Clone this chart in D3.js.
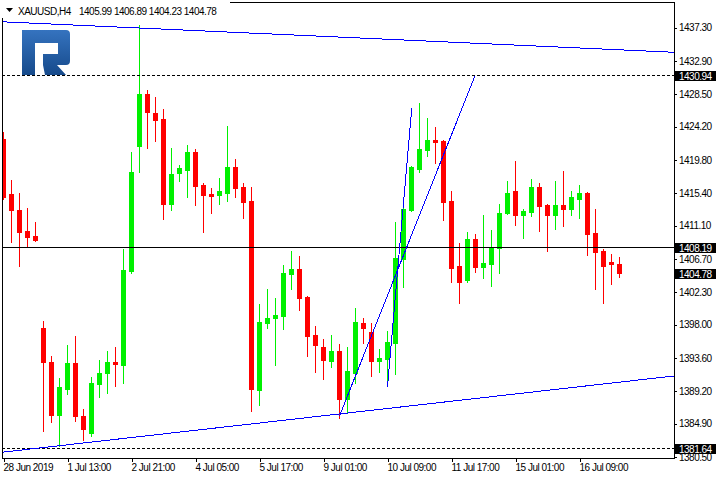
<!DOCTYPE html>
<html><head><meta charset="utf-8">
<script src="https://cdn.jsdelivr.net/npm/d3@7"></script>
<style>
html,body{margin:0;padding:0;background:#fff;}
svg{display:block;}
text{font-family:"Liberation Sans",Arial,sans-serif;font-size:10px;letter-spacing:-0.5px;}
</style>
</head><body>
<svg id="c" width="720" height="480"></svg>
<script>
// ---------- data ----------
const symbolName = "XAUUSD,H4";
const lastOHLC = [1405.99, 1406.89, 1404.23, 1404.78];

const opens = [1422.43,1415.16,1413.04,1410.26,1409.60,1397.43,1392.93,1385.95,1389.39,1392.80,
1385.91,1383.57,1390.06,1391.51,1392.93,1392.57,1404.97,1421.55,1428.39,1426.00,
1425.08,1413.87,1417.97,1418.37,1420.71,1416.35,1415.16,1415.06,1415.33,1418.73,
1416.08,1414.23,1389.26,1398.13,1398.79,1399.05,1404.61,1405.23,1401.53,1396.50,
1394.91,1393.10,1394.51,1388.07,1391.51,1398.09,1396.90,1393.10,1393.36,1395.48,
1406.59,1413.04,1418.50,1421.02,1422.30,1422.17,1414.23,1405.63,1403.78,1409.33,
1405.54,1405.93,1408.05,1412.68,1415.68,1412.42,1412.81,1416.08,1413.70,1412.42,
1413.70,1413.21,1414.53,1415.29,1410.00,1407.61,1406.20,1405.99];

const highs = [1423.36,1417.01,1415.29,1413.30,1411.45,1398.48,1393.72,1390.81,1395.18,1396.37,
1386.71,1391.07,1393.32,1394.38,1394.91,1407.88,1420.84,1437.52,1428.92,1427.99,
1426.40,1421.24,1419.12,1421.64,1421.11,1416.61,1415.95,1417.40,1424.15,1419.79,
1416.61,1416.21,1400.60,1402.59,1401.40,1405.76,1407.61,1407.08,1401.66,1397.69,
1395.97,1396.50,1395.31,1394.95,1400.07,1398.75,1398.09,1394.65,1397.07,1411.45,
1413.96,1418.86,1427.20,1425.21,1424.02,1422.30,1415.68,1408.80,1410.13,1409.86,
1412.38,1410.39,1413.83,1416.88,1419.65,1413.17,1417.14,1416.61,1413.83,1416.88,
1418.20,1415.68,1416.35,1415.42,1413.17,1407.88,1407.26,1406.89];

const lows = [1414.60,1408.84,1405.67,1408.31,1408.94,1383.84,1385.03,1381.85,1388.73,1385.16,
1382.65,1383.18,1388.34,1388.87,1389.79,1390.19,1404.74,1418.11,1421.28,1422.21,
1411.89,1413.08,1416.92,1414.80,1413.74,1410.17,1412.68,1413.87,1414.27,1414.80,
1412.02,1386.48,1387.28,1397.47,1392.57,1397.33,1402.63,1399.85,1393.76,1391.64,
1390.72,1392.31,1385.56,1386.22,1390.19,1395.48,1391.11,1391.64,1389.79,1391.38,
1402.89,1412.91,1418.11,1420.22,1419.30,1411.76,1403.55,1400.77,1403.55,1404.88,
1404.08,1403.02,1404.74,1412.55,1411.09,1409.37,1412.28,1410.30,1407.65,1410.56,
1410.96,1412.42,1412.02,1407.12,1402.63,1400.77,1403.29,1404.23];

const closes = [1414.76,1413.08,1410.17,1409.51,1409.11,1392.97,1385.95,1389.62,1392.80,1385.82,
1384.10,1390.15,1391.47,1392.93,1392.66,1405.10,1418.07,1428.39,1426.04,1424.99,
1413.87,1417.93,1418.60,1420.71,1416.25,1415.06,1414.93,1415.68,1418.73,1415.99,
1414.14,1389.39,1398.22,1398.75,1399.15,1404.70,1405.23,1401.43,1396.41,1395.22,
1393.23,1394.51,1388.07,1391.74,1398.22,1397.47,1393.10,1393.50,1395.57,1406.69,
1413.17,1418.73,1421.11,1422.30,1422.08,1414.14,1405.40,1403.55,1409.33,1405.54,
1406.07,1408.01,1412.77,1415.29,1412.42,1412.91,1416.08,1413.61,1412.42,1413.70,
1413.21,1414.76,1415.29,1409.90,1407.52,1405.67,1405.93,1404.78];

const xTickIndex  = [0, 8, 16, 24, 32, 40, 48, 56, 64, 72];
const xTickLabels = ["28 Jun 2019","1 Jul 13:00","2 Jul 21:00","4 Jul 05:00","5 Jul 17:00",
                     "9 Jul 01:00","10 Jul 09:00","11 Jul 17:00","15 Jul 01:00","16 Jul 09:00"];
const priceTicks = [1437.30,1432.90,1428.50,1424.20,1419.80,1415.40,1411.10,1406.70,
                    1402.30,1398.00,1393.60,1389.20,1384.90,1380.50];

// horizontal levels and price marks on the axis
const levelPrices = [1430.94, 1408.19, 1381.64];
const levelDashed = [true, false, true];
const markPrices  = [1430.94, 1408.19, 1404.78, 1381.64];

// trend lines: bar index / price anchors
const trendFrom   = [[0, 1438.06], [0, 1381.14], [42, 1385.92], [48, 1389.79]];
const trendTo     = [[80, 1434.22], [80, 1390.75], [58.94, 1430.94], [51.03, 1426.63]];
const trendExtend = [true, true, false, false];

// ---------- drawing ----------
const W = 720, H = 480;
const L = 2, R = 674, T = 2, B = 458;
const svg = d3.select("#c");
svg.append("rect").attr("width", W).attr("height", H).attr("fill", "#fff");

const x = d3.scaleLinear().domain([0, 84]).range([3.5, 675.5]);
const y = d3.scaleLinear().domain([1380.5, 1437.3]).range([456.9, 27.6]);

const defs = svg.append("defs");
defs.append("clipPath").attr("id", "plot")
  .append("rect").attr("x", L + 1).attr("y", T + 1).attr("width", R - L - 1).attr("height", B - T - 1);
const grad = defs.append("linearGradient").attr("id", "lg").attr("x1", 0).attr("y1", 0).attr("x2", 0).attr("y2", 1);
grad.append("stop").attr("offset", "0%").attr("stop-color", "#3573bf");
grad.append("stop").attr("offset", "100%").attr("stop-color", "#164a8b");

const plot = svg.append("g").attr("clip-path", "url(#plot)");

const candles = opens.map((o, i) => ({i, o, h: highs[i], l: lows[i], c: closes[i]}));
const UP = "#00f000", DN = "#ff0000";

const cg = plot.append("g").attr("shape-rendering", "crispEdges");
cg.selectAll("line.w").data(candles).join("line")
  .attr("x1", d => x(d.i)).attr("x2", d => x(d.i))
  .attr("y1", d => Math.floor(y(d.h)))
  .attr("y2", d => Math.floor(y(d.l)) + 1)
  .attr("stroke", d => d.c >= d.o ? UP : DN).attr("stroke-width", 1);
cg.selectAll("rect.b").data(candles).join("rect")
  .attr("x", d => x(d.i) - 2.5).attr("width", 5)
  .attr("y", d => Math.floor(y(Math.max(d.o, d.c))))
  .attr("height", d => Math.floor(y(Math.min(d.o, d.c))) - Math.floor(y(Math.max(d.o, d.c))) + 1)
  .attr("fill", d => d.c >= d.o ? UP : DN);

// horizontal levels
const lv = plot.append("g").attr("shape-rendering", "crispEdges");
levelPrices.forEach((p, k) => {
  const yy = Math.floor(y(p)) + 0.5;
  lv.append("line").attr("x1", L).attr("x2", R).attr("y1", yy).attr("y2", yy)
    .attr("stroke", "#000").attr("stroke-width", 1)
    .attr("stroke-dasharray", levelDashed[k] ? "3,2" : null);
});

// trend lines
const tl = plot.append("g").attr("shape-rendering", "crispEdges");
trendFrom.forEach((a, k) => {
  const b = trendTo[k];
  let i1 = a[0], p1 = a[1], i2 = b[0], p2 = b[1];
  if (trendExtend[k]) {
    const s = (p2 - p1) / (i2 - i1);
    const lo = -2, hi = 86;
    p1 = a[1] + s * (lo - a[0]); i1 = lo;
    p2 = a[1] + s * (hi - a[0]); i2 = hi;
  }
  tl.append("line").attr("x1", x(i1)).attr("y1", y(p1)).attr("x2", x(i2)).attr("y2", y(p2))
    .attr("stroke", "#0000ff").attr("stroke-width", 1);
});

// logo
svg.append("path")
  .attr("d", "M22,30 H66 Q70,30 70,34 V61 Q70,65 66,65 H43 V54 H58 V43 H35 V75 H22 Z M43,65 H57 L66,75 H45 Z")
  .attr("fill", "url(#lg)");

// frame
const fr = svg.append("g").attr("shape-rendering", "crispEdges").attr("stroke", "#000").attr("fill", "none");
fr.append("line").attr("x1", L + 0.5).attr("x2", L + 0.5).attr("y1", 18).attr("y2", B + 1);
fr.append("line").attr("x1", L).attr("x2", R + 1).attr("y1", B + 0.5).attr("y2", B + 0.5);
fr.append("line").attr("x1", R + 0.5).attr("x2", R + 0.5).attr("y1", T).attr("y2", B + 1);
fr.append("line").attr("x1", 230).attr("x2", R + 1).attr("y1", T + 0.5).attr("y2", T + 0.5);

// price axis
const yAxis = d3.axisRight(y).tickValues(priceTicks).tickSize(3).tickPadding(2).tickFormat(d3.format(".2f"));
const ya = svg.append("g").attr("transform", `translate(${R},0)`).call(yAxis);
ya.select(".domain").remove();
ya.selectAll("line").attr("stroke", "#000").attr("shape-rendering", "crispEdges");
ya.selectAll("text").attr("fill", "#000").style("font-family", '"Liberation Sans",Arial,sans-serif').style("font-size", "10px");

// time axis
const xAxis = d3.axisBottom(x).tickValues(xTickIndex).tickSize(4)
  .tickFormat((d, k) => xTickLabels[k]);
const xa = svg.append("g").attr("transform", `translate(0,${B})`).call(xAxis);
xa.select(".domain").remove();
xa.selectAll("line").attr("stroke", "#000").attr("shape-rendering", "crispEdges");
xa.selectAll("text").attr("fill", "#000").attr("text-anchor", "start")
  .attr("dx", -0.5).attr("y", 12.5).attr("dy", 0)
  .style("font-family", '"Liberation Sans",Arial,sans-serif').style("font-size", "10px");

// price marks
const pm = svg.append("g");
markPrices.forEach(p => {
  const yy = Math.floor(y(p));
  pm.append("rect").attr("x", R + 1).attr("y", yy - 4).attr("width", 41).attr("height", 10)
    .attr("fill", "#000").attr("shape-rendering", "crispEdges");
  pm.append("text").attr("x", R + 5).attr("y", yy + 4.5).attr("fill", "#fff").text(d3.format(".2f")(p));
});

// title
svg.append("path").attr("d", "M6,8 H13 L9.5,12 Z").attr("fill", "#000");
svg.append("text").attr("x", 18).attr("y", 14.5).attr("fill", "#000").text(symbolName);
svg.append("text").attr("x", 79).attr("y", 14.5).attr("fill", "#000")
  .text(lastOHLC.map(d3.format(".2f")).join(" "));
</script>
</body></html>
